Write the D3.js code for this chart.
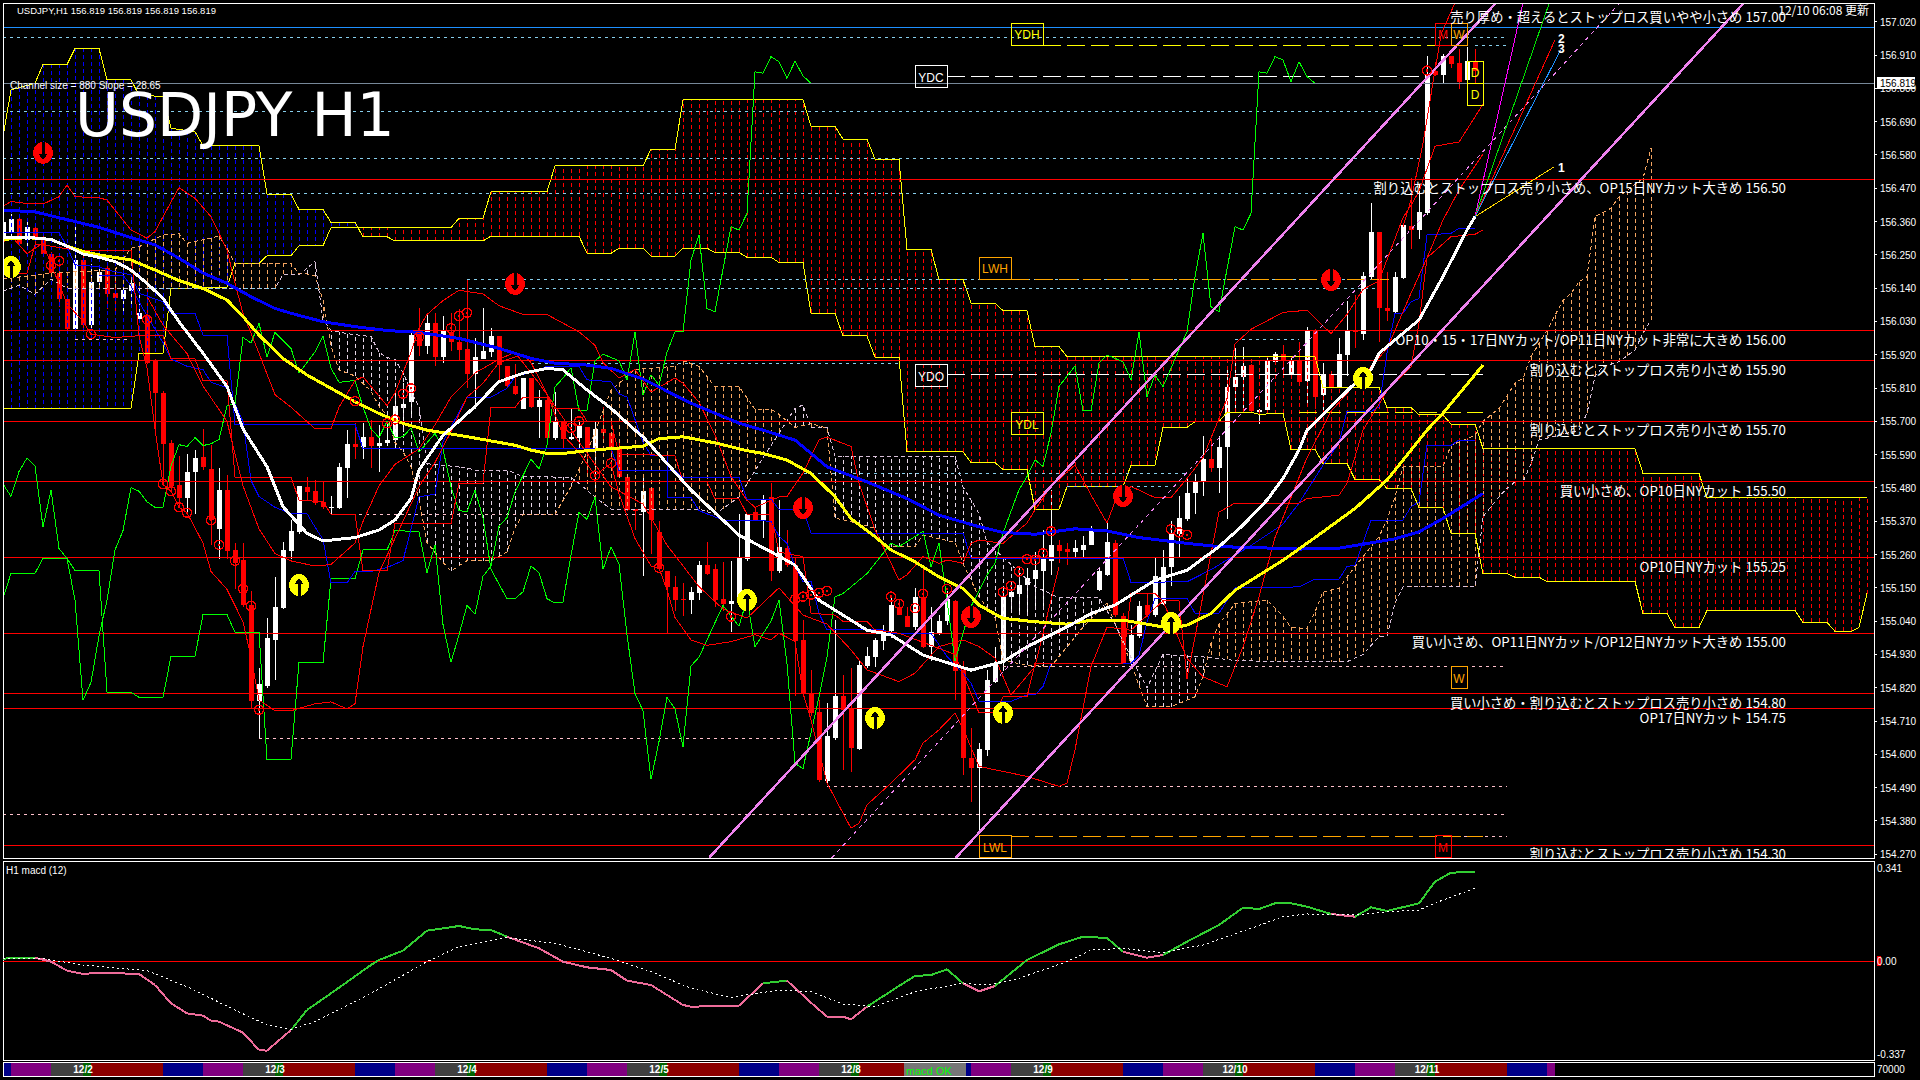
<!DOCTYPE html>
<html>
<head>
<meta charset="utf-8">
<style>
html, body { margin: 0; padding: 0; background: #000; }
svg { display: block; }
text { font-family: "Liberation Sans", sans-serif; fill: #fff; }
.jp { font-family: "Noto Sans CJK JP", sans-serif; }
</style>
<script src="https://cdn.jsdelivr.net/npm/d3@7"></script>
</head>
<body>
<svg id="chart" width="1920" height="1080"></svg>
<script>
// Candles, one value per hourly bar
const opens = [156.301,156.325,156.370,156.299,156.339,156.299,156.252,156.189,156.103,156.006,156.233,156.018,156.160,156.207,156.124,156.103,156.130,156.039,156.047,155.900,155.794,155.629,155.489,155.446,155.532,155.581,155.544,155.345,155.473,155.275,155.241,155.092,154.775,154.826,154.977,155.082,155.272,155.334,155.482,155.469,155.434,155.414,155.414,155.546,155.625,155.614,155.647,155.619,155.629,155.638,155.744,155.763,155.991,155.949,156.025,155.911,155.996,155.962,155.939,155.856,155.905,155.930,155.982,155.882,155.817,155.740,155.843,155.746,155.771,155.644,155.700,155.641,155.644,155.680,155.609,155.674,155.661,155.609,155.516,155.409,155.402,155.480,155.334,155.205,155.154,155.113,155.109,155.134,155.225,155.211,155.112,155.097,155.103,155.245,155.399,155.374,155.449,155.206,155.281,155.226,154.978,154.802,154.741,154.513,154.653,154.793,154.752,154.618,154.893,154.923,154.973,155.006,155.088,155.057,155.022,155.121,154.956,155.000,155.039,155.107,154.879,154.587,154.554,154.615,154.840,154.907,155.121,155.130,155.160,155.180,155.204,155.240,155.290,155.278,155.267,155.275,155.292,155.143,155.193,155.297,155.057,154.907,154.991,155.094,155.061,155.097,155.219,155.327,155.379,155.462,155.500,155.576,155.546,155.615,155.814,155.847,155.886,155.732,155.736,155.897,155.921,155.856,155.900,155.833,156.000,155.786,155.856,155.814,155.918,156.000,155.990,156.178,156.324,156.074,156.060,156.175,156.345,156.331,156.387,156.859,156.845,156.908,156.884,156.829,156.890];
const highs = [156.431,156.384,156.378,156.360,156.348,156.313,156.260,156.236,156.112,156.372,156.254,156.219,156.207,156.224,156.195,156.165,156.177,156.136,156.165,155.906,155.800,155.640,155.587,155.591,155.605,155.676,155.623,155.546,155.522,155.298,155.298,155.139,154.885,155.050,155.186,155.301,155.375,155.487,155.516,155.505,155.499,155.452,155.564,155.670,155.693,155.693,155.705,155.688,155.693,155.803,155.826,155.991,156.076,156.053,156.059,156.047,156.059,156.070,156.167,155.974,156.076,156.008,155.982,155.882,155.888,155.843,155.843,155.805,155.786,155.797,155.700,155.740,155.706,155.680,155.700,155.746,155.661,155.632,155.518,155.410,155.513,155.480,155.370,155.205,155.188,155.166,155.154,155.240,155.302,155.228,155.234,155.240,155.393,155.393,155.416,155.456,155.496,155.441,155.342,155.253,155.044,154.879,154.780,154.769,155.044,154.863,154.885,154.907,154.956,154.984,155.028,155.116,155.110,155.088,155.149,155.220,155.088,155.061,155.138,155.110,154.907,154.686,154.637,154.879,154.956,155.143,155.168,155.215,155.215,155.270,155.342,155.474,155.308,155.297,155.308,155.320,155.355,155.215,155.369,155.308,155.066,155.028,155.105,155.132,155.253,155.275,155.372,155.455,155.511,155.525,155.650,155.643,155.650,155.872,155.942,155.945,155.889,155.740,155.914,155.928,155.952,155.914,155.963,156.011,156.004,155.893,155.865,155.977,156.097,156.116,156.192,156.421,156.324,156.192,156.192,156.348,156.505,156.484,156.908,156.887,156.915,156.908,156.929,156.936,156.929];
const lows = [156.278,156.313,156.283,156.280,156.278,156.242,156.183,156.077,155.988,155.994,156.006,155.994,156.136,156.071,156.065,156.053,156.077,156.030,155.888,155.658,155.487,155.469,155.416,155.398,155.393,155.540,155.292,155.245,155.245,155.145,155.086,154.750,154.655,154.820,154.844,155.080,155.245,155.328,155.440,155.422,155.410,155.393,155.410,155.446,155.575,155.575,155.546,155.534,155.617,155.609,155.666,155.712,155.917,155.922,155.882,155.894,155.934,155.900,155.809,155.740,155.905,155.911,155.837,155.814,155.786,155.740,155.744,155.644,155.638,155.638,155.609,155.638,155.609,155.530,155.473,155.632,155.575,155.513,155.405,155.342,155.188,155.262,155.211,155.001,155.075,155.057,155.063,155.111,155.194,155.086,155.075,155.004,155.103,155.240,155.374,155.314,155.171,155.198,155.220,154.791,154.796,154.725,154.510,154.505,154.648,154.549,154.543,154.615,154.885,154.890,154.945,154.984,155.061,155.022,155.011,154.951,154.907,154.995,155.028,154.780,154.532,154.444,154.339,154.593,154.835,154.874,155.066,155.066,155.066,155.083,155.083,155.193,155.231,155.226,155.253,155.253,155.290,155.138,155.190,155.055,154.901,154.896,154.984,155.055,155.055,155.094,155.156,155.247,155.372,155.393,155.455,155.532,155.462,155.379,155.740,155.733,155.726,155.692,155.733,155.893,155.851,155.844,155.817,155.747,155.740,155.726,155.810,155.810,155.851,155.942,155.970,156.171,155.963,156.032,156.053,156.171,156.268,156.303,156.382,156.842,156.817,156.866,156.797,156.829,156.817];
const closes = [156.360,156.370,156.287,156.341,156.301,156.252,156.189,156.103,156.006,156.233,156.018,156.162,156.195,156.122,156.107,156.134,156.157,156.059,155.894,155.794,155.626,155.487,155.446,155.534,155.579,155.548,155.375,155.473,155.272,155.233,155.092,154.775,154.832,154.985,155.086,155.275,155.339,155.485,155.466,155.430,155.416,155.417,155.548,155.625,155.614,155.647,155.619,155.629,155.640,155.752,155.757,155.985,155.949,156.025,155.911,155.999,155.962,155.936,155.856,155.911,155.934,155.982,155.885,155.817,155.789,155.843,155.748,155.769,155.644,155.700,155.641,155.649,155.683,155.609,155.674,155.661,155.612,155.515,155.407,155.405,155.471,155.373,155.211,155.154,155.109,155.109,155.137,155.225,155.196,155.111,155.097,155.106,155.247,155.393,155.374,155.439,155.206,155.286,155.226,154.973,154.802,154.736,154.516,154.659,154.791,154.747,154.622,154.896,154.925,154.976,155.006,155.094,155.061,155.022,155.121,154.956,155.003,155.042,155.112,154.874,154.587,154.554,154.617,154.846,154.901,155.121,155.135,155.160,155.184,155.209,155.245,155.290,155.273,155.270,155.283,155.290,155.342,155.204,155.300,155.061,154.903,154.995,155.090,155.061,155.190,155.219,155.327,155.382,155.462,155.500,155.576,155.546,155.615,155.814,155.847,155.883,155.733,155.736,155.900,155.921,155.903,155.900,155.831,156.000,155.782,155.856,155.814,155.921,156.000,155.995,156.181,156.324,156.074,156.063,156.178,156.348,156.331,156.393,156.845,156.845,156.908,156.880,156.820,156.890,156.859];

// Main cloud: [bar, price] corners of its two edges
const cloudA = [[0,156.640],[1,156.795],[4,156.817],[5,156.879],[8,156.879],[9,156.932],[12,156.932],[13,156.828],[16,156.828],[17,156.778],[20,156.773],[21,156.668],[24,156.657],[25,156.610],[32,156.610],[33,156.451],[36,156.451],[37,156.400],[40,156.400],[41,156.357],[44,156.357],[45,156.310],[48,156.310],[49,156.296],[60,156.296],[61,156.312],[72,156.312],[73,156.255],[76,156.255],[77,156.272],[80,156.272],[81,156.246],[84,156.246],[85,156.272],[88,156.272],[89,156.258],[92,156.258],[93,156.242],[96,156.242],[97,156.225],[100,156.225],[101,156.057],[104,156.057],[105,155.982],[108,155.982],[109,155.912],[112,155.912],[113,155.599],[120,155.599],[121,155.564],[124,155.564],[125,155.541],[128,155.541],[129,155.409],[132,155.409],[133,155.484],[140,155.484],[141,155.555],[144,155.555],[145,155.680],[148,155.680],[149,155.699],[152,155.699],[153,155.730],[156,155.730],[157,155.723],[160,155.727],[161,155.607],[164,155.607],[165,155.561],[168,155.561],[169,155.508],[172,155.508],[173,155.478],[176,155.478],[177,155.415],[180,155.415],[181,155.330],[184,155.330],[185,155.197],[188,155.197],[189,155.185],[192,155.185],[193,155.171],[204,155.171],[205,155.065],[208,155.065],[209,155.019],[212,155.019],[213,155.075],[224,155.075],[225,155.036],[228,155.036],[229,155.006],[231,155.006],[232,155.019],[233,155.131]];
const cloudB = [[0,155.743],[16,155.743],[17,155.925],[20,155.925],[21,156.139],[28,156.143],[29,156.222],[32,156.222],[33,156.247],[36,156.247],[37,156.280],[40,156.280],[41,156.340],[56,156.340],[57,156.371],[60,156.371],[61,156.459],[68,156.459],[69,156.544],[80,156.544],[81,156.599],[84,156.599],[85,156.762],[100,156.762],[101,156.675],[104,156.675],[105,156.632],[108,156.632],[109,156.566],[112,156.566],[113,156.268],[116,156.268],[117,156.169],[120,156.169],[121,156.090],[124,156.090],[125,156.066],[128,156.066],[129,155.947],[132,155.947],[133,155.914],[164,155.914],[165,155.812],[172,155.812],[173,155.746],[176,155.746],[177,155.721],[180,155.721],[181,155.691],[184,155.691],[185,155.610],[204,155.610],[205,155.528],[212,155.528],[213,155.447],[233,155.447]];

// Second, dashed cloud
const spanPeach = [[0,156.17],[3,156.18],[6,156.19],[14,156.20],[16,156.272],[17,156.277],[20,156.316],[22,156.32],[23,156.288],[27,156.312],[28,156.272],[29,156.222],[36,156.222],[37,156.187],[38,156.187],[39,156.18],[40,156.10],[41,155.95],[42,155.87],[44,155.85],[46,155.80],[47,155.75],[48,155.72],[49,155.63],[50,155.60],[51,155.55],[52,155.44],[53,155.30],[55,155.234],[56,155.205],[58,155.24],[61,155.24],[63,155.268],[64,155.348],[65,155.393],[69,155.393],[71,155.484],[73,155.598],[74,155.666],[76,155.803],[79,155.871],[84,155.882],[85,155.90],[87,155.882],[89,155.814],[92,155.814],[94,155.74],[96,155.74],[97,155.723],[99,155.68],[101,155.693],[103,155.677],[104,155.38],[105,155.375],[109,155.347],[110,155.286],[114,155.286],[115,155.325],[119,155.30],[120,155.23],[122,155.12],[124,155.05],[125,154.91],[128,154.895],[131,154.89],[133,154.955],[135,155.02],[138,155.10],[141,154.90],[143,154.757],[146,154.757],[149,154.79],[150,154.856],[151,154.966],[152,155.03],[154,155.098],[158,155.11],[160,155.056],[161,155.019],[163,155.016],[164,155.07],[165,155.137],[167,155.148],[168,155.186],[169,155.22],[172,155.319],[173,155.374],[174,155.451],[175,155.55],[180,155.55],[181,155.621],[184,155.654],[185,155.70],[187,155.743],[189,155.826],[190,155.842],[191,155.914],[193,156.0],[195,156.1],[196,156.123],[197,156.161],[198,156.178],[199,156.376],[201,156.404],[202,156.442],[205,156.503],[206,156.602]];
const spanLilac = [[0,156.13],[2,156.15],[4,156.12],[6,156.17],[8,156.14],[16,156.14],[28,156.140],[34,156.139],[35,156.184],[37,156.184],[39,156.228],[40,156.035],[41,156.0],[43,155.99],[46,155.98],[47,155.928],[48,155.911],[49,155.905],[50,155.86],[52,155.746],[53,155.56],[58,155.547],[59,155.539],[63,155.539],[65,155.518],[71,155.515],[72,155.495],[74,155.45],[76,155.41],[87,155.41],[89,155.393],[92,155.45],[95,155.58],[97,155.66],[99,155.743],[100,155.754],[101,155.68],[103,155.68],[104,155.585],[119,155.585],[120,155.484],[122,155.396],[123,155.30],[129,155.154],[131,155.13],[132,155.117],[137,155.117],[139,155.03],[141,154.92],[143,154.82],[145,154.93],[151,154.92],[154,154.91],[160,154.906],[168,154.906],[170,154.93],[172,154.988],[173,154.99],[174,155.1],[175,155.153],[184,155.153],[185,155.385],[186,155.418],[187,155.451],[188,155.478],[189,155.5],[190,155.5],[191,155.561],[192,155.638],[197,155.67],[198,155.727],[199,155.848],[200,155.881],[202,155.897],[204,155.936],[205,155.991],[206,156.035]];

// Moving averages
const maBlue = [[0,156.398],[4,156.392],[9,156.36],[12,156.341],[16,156.307],[19,156.283],[22,156.239],[25,156.19],[28,156.156],[31,156.112],[34,156.073],[36,156.057],[40,156.029],[44,156.013],[48,156.0],[52,155.994],[57,155.974],[62,155.941],[66,155.908],[69,155.892],[73,155.886],[76,155.875],[80,155.84],[86,155.76],[92,155.694],[95,155.671],[99,155.638],[103,155.55],[108,155.5],[113,155.445],[117,155.39],[122,155.352],[125,155.333],[129,155.327],[132,155.338],[134,155.345],[138,155.338],[142,155.316],[148,155.297],[152,155.286],[155,155.284],[160,155.28],[162,155.278],[167,155.281],[170,155.294],[174,155.312],[177,155.335],[180,155.379],[185,155.462]];
const maYellow = [[0,156.301],[3,156.307],[6,156.301],[8,156.279],[10,156.261],[12,156.25],[16,156.233],[19,156.2],[22,156.165],[25,156.139],[28,156.101],[30,156.046],[32,155.985],[35,155.908],[38,155.853],[41,155.809],[44,155.765],[47,155.726],[50,155.693],[53,155.671],[57,155.654],[60,155.64],[64,155.621],[66,155.605],[68,155.594],[70,155.594],[73,155.603],[76,155.61],[80,155.618],[82,155.643],[85,155.649],[89,155.629],[93,155.603],[95,155.594],[98,155.572],[101,155.528],[104,155.451],[106,155.379],[109,155.319],[111,155.275],[114,155.236],[117,155.186],[120,155.148],[122,155.093],[125,155.049],[129,155.038],[133,155.03],[136,155.043],[140,155.043],[143,155.03],[146,155.016],[148,155.027],[151,155.065],[154,155.142],[158,155.208],[160,155.241],[164,155.316],[169,155.412],[173,155.506],[178,155.671],[180,155.727],[185,155.886]];
const maWhite = [[0,156.308],[3,156.308],[6,156.301],[8,156.279],[10,156.253],[12,156.242],[14,156.228],[16,156.2],[18,156.156],[20,156.106],[22,156.029],[25,155.925],[28,155.815],[30,155.675],[33,155.55],[35,155.418],[38,155.33],[40,155.305],[44,155.316],[47,155.341],[49,155.374],[51,155.445],[52,155.539],[54,155.616],[55,155.654],[56,155.677],[59,155.749],[62,155.831],[65,155.859],[68,155.875],[70,155.87],[73,155.804],[76,155.743],[79,155.671],[80,155.649],[83,155.561],[86,155.473],[92,155.324],[96,155.269],[99,155.225],[102,155.109],[105,155.06],[108,155.01],[111,154.994],[115,154.928],[118,154.903],[121,154.878],[125,154.906],[128,154.955],[133,155.021],[136,155.065],[139,155.093],[144,155.175],[148,155.208],[152,155.286],[155,155.357],[158,155.44],[160,155.511],[162,155.605],[163,155.671],[169,155.826],[171,155.87],[172,155.925],[177,156.035],[180,156.178],[183,156.332],[184,156.376]];

// Thin green lines
const greenLong = [[0,155.493],[1,155.452],[2,155.534],[3,155.579],[4,155.552],[5,155.351],[6,155.473],[7,155.28],[8,155.247],[9,155.109],[10,154.779],[11,154.838],[12,154.991],[13,155.109],[14,155.275],[15,155.339],[16,155.481],[17,155.469],[18,155.434],[19,155.416],[20,155.416],[21,155.552],[22,155.623],[23,155.617],[24,155.646],[25,155.62],[26,155.626],[27,155.64],[28,155.752],[29,155.758],[30,155.977],[31,155.959],[32,156.024],[33,155.912],[34,155.994],[36,155.941],[37,155.859],[39,155.93],[40,155.983],[41,155.876],[42,155.829],[44,155.835],[45,155.747],[46,155.676],[47,155.646],[48,155.7],[49,155.646],[50,155.649],[51,155.678],[52,155.598],[54,155.66],[55,155.609],[56,155.484],[57,155.405],[58,155.402],[59,155.473],[60,155.382],[61,155.211],[63,155.114],[64,155.114],[65,155.137],[66,155.222],[67,155.2],[68,155.114],[69,155.1],[70,155.103],[71,155.257],[72,155.399],[73,155.376],[74,155.45],[75,155.211],[76,155.285],[77,155.228],[78,154.995],[79,154.801],[80,154.744],[81,154.517],[82,154.642],[83,154.788],[84,154.75],[85,154.625],[86,154.892],[87,154.921],[90,155.092],[91,155.057],[92,155.023],[93,155.114],[94,154.955],[96,155.04],[97,155.109],[98,154.9],[99,154.57],[100,154.553],[102,154.79],[103,154.922],[104,155.12],[105,155.131],[108,155.197],[111,155.297],[112,155.286],[115,155.336],[116,155.22],[117,155.297],[118,155.11],[119,154.907],[120,155.0],[121,155.088],[123,155.193],[124,155.231],[125,155.331],[127,155.474],[128,155.518],[129,155.573],[130,155.551],[131,155.661],[132,155.815],[134,155.883],[135,155.735],[136,155.735],[137,155.892],[138,155.919],[140,155.897],[141,155.837],[142,155.996],[143,155.782],[144,155.853],[145,155.815],[148,155.996],[149,156.178],[150,156.321],[151,156.079],[152,156.062],[154,156.343],[155,156.332],[156,156.387],[157,156.855],[158,156.85],[159,156.905],[160,156.894],[161,156.822],[162,156.888],[163,156.839],[164,156.817]];
const greenShort = [[0,155.115],[1,155.198],[4,155.198],[5,155.247],[8,155.247],[9,155.207],[12,155.207],[13,154.805],[16,154.805],[17,154.788],[20,154.788],[21,154.924],[24,154.924],[25,155.062],[28,155.062],[29,155.003],[32,155.003],[33,154.584],[36,154.584],[37,154.903],[40,154.903],[41,155.18],[44,155.18],[45,155.275],[48,155.275],[49,155.339],[52,155.336],[53,155.2],[54,155.291],[55,155.029],[56,154.904],[57,154.995],[58,155.092],[59,155.063],[60,155.188],[61,155.222],[62,155.353],[63,155.382],[64,155.467],[66,155.575],[67,155.543],[68,155.621],[69,155.814],[70,155.843],[71,155.877],[72,155.735],[73,155.737],[74,155.9],[75,155.922],[77,155.9],[78,155.837],[79,155.996],[80,155.786],[81,155.854],[82,155.82],[83,155.928],[84,155.996],[85,155.996],[86,156.233],[87,156.316],[88,156.073],[89,156.062],[91,156.343],[92,156.332],[93,156.387],[94,156.855],[95,156.85],[96,156.905],[97,156.888],[98,156.833],[99,156.89],[100,156.841],[101,156.817]];

// Thin blue step lines
const blueUpper = [[0,156.325],[7,156.324],[8,156.277],[9,156.217],[12,156.211],[13,156.2],[16,156.184],[17,156.123],[20,156.095],[21,156.057],[24,156.057],[25,155.985],[28,155.985],[29,155.69],[44,155.69],[45,155.61],[75,155.61],[76,155.61],[77,155.538],[84,155.538],[85,155.515],[92,155.515],[93,155.442],[96,155.442],[97,155.41],[100,155.41],[101,155.331],[120,155.331],[121,155.248],[140,155.248],[141,155.168],[148,155.17],[151,155.21],[156,155.29],[160,155.36],[162,155.43],[165,155.555],[167,155.627],[168,155.733],[171,155.733],[172,155.747],[173,155.925],[174,156.057],[175,156.057],[176,156.095],[177,156.106],[178,156.316],[181,156.321],[182,156.338],[184,156.338]];
const blueLower = [[12,156.183],[15,156.183],[16,156.148],[17,156.095],[20,155.959],[21,155.906],[23,155.882],[25,155.871],[26,155.829],[28,155.811],[29,155.758],[30,155.699],[31,155.505],[32,155.452],[34,155.416],[36,155.395],[38,155.395],[39,155.351],[40,155.31],[41,155.166],[43,155.166],[44,155.204],[46,155.204],[48,155.217],[50,155.24],[52,155.45],[54,155.46],[55,155.632],[58,155.78],[61,155.78],[63,155.809],[64,155.848],[67,155.869],[68,155.882],[72,155.882],[73,155.837],[76,155.831],[77,155.791],[78,155.78],[80,155.632],[81,155.587],[83,155.587],[83.1,155.45],[86,155.448],[87,155.405],[90,155.374],[93,155.374],[96,155.37],[97,155.32],[98,155.297],[99,155.22],[100,155.171],[101,155.171],[102,155.066],[103,155.011],[110,155.011],[111,155.0],[116,155.0],[117,154.962],[118,154.923],[120,154.868],[121,154.835],[122,154.775],[126,154.775],[128,154.796],[129,154.796],[130,154.824],[131,154.9],[141,154.9],[142,154.927],[143,155.038],[144,155.115],[148,155.115],[149,155.066],[152,155.066],[154,155.15],[162,155.153],[164,155.179],[167,155.179],[168,155.22],[169,155.225],[171,155.374],[175,155.374],[176,155.418],[177,155.434],[178,155.621],[181,155.621],[182,155.638],[184,155.638]];

// Thin red lines
const redStep = [[0,156.189],[3,156.189],[4,156.283],[5,156.283],[9,156.266],[16,156.266],[17,155.983],[20,155.983],[21,155.906],[24,155.906],[25,155.835],[28,155.835],[29,155.516],[36,155.516],[37,155.44],[40,155.434],[41,155.393],[44,155.393],[45,155.207],[48,155.207],[49,155.363],[56,155.361],[57,155.496],[60,155.496],[61,155.746],[64,155.746],[65,155.78],[68,155.78],[69,155.742],[72,155.742],[73,155.70],[76,155.70],[77,155.592],[84,155.587],[85,155.50],[88,155.50],[89,155.444],[92,155.444],[93,155.393],[96,155.393],[97,155.268],[100,155.253],[101,155.066],[104,155.06],[105,155.039],[108,155.039],[109,155.011],[112,155.0],[116,154.96],[119,154.93],[122,154.737],[124,154.737],[125,154.79],[128,154.79],[129,154.9],[140,154.9],[141,155.131],[144,155.131],[145,155.107],[147,155.107],[148,154.85],[152,155.40],[154,155.43],[162,155.43],[163,155.445],[167,155.456],[168,155.495],[170,155.671],[173,155.80],[176,155.88],[177,156.024],[178,156.24],[181,156.31],[184,156.318],[185,156.332]];
const redUpper = [[0,156.41],[1,156.426],[3,156.42],[5,156.418],[7,156.442],[8,156.481],[9,156.442],[12,156.439],[13,156.431],[16,156.332],[18,156.305],[19,156.327],[20,156.376],[22,156.472],[24,156.437],[26,156.376],[28,156.266],[29,156.156],[30,156.057],[32,155.925],[34,155.788],[36,155.747],[37,155.723],[39,155.676],[41,155.676],[42,155.747],[44,155.835],[45,155.847],[48,155.752],[49,155.794],[51,155.928],[52,156.008],[53,156.053],[55,156.099],[57,156.133],[60,156.121],[62,156.082],[65,156.053],[68,156.053],[72,155.996],[74,155.951],[75,155.894],[77,155.843],[79,155.871],[81,155.797],[84,155.843],[85,155.826],[87,155.763],[89,155.655],[91,155.518],[93,155.439],[94,155.416],[97,155.45],[98,155.452],[100,155.529],[102,155.639],[103,155.648],[106,155.617],[107,155.496],[109,155.342],[112,155.176],[113,155.193],[115,155.253],[117,155.231],[118,155.242],[120,155.231],[121,155.297],[122,155.308],[125,155.297],[128,155.364],[129,155.408],[131,155.485],[134,155.556],[136,155.457],[138,155.364],[139,155.435],[141,155.485],[144,155.448],[146,155.448],[148,155.511],[150,155.58],[153,155.775],[154,155.956],[156,156.004],[158,156.032],[160,156.06],[163,156.067],[166,155.99],[168,156.053],[170,156.136],[172,156.164],[175,156.373],[176,156.414],[177,156.46],[179,156.609],[182,156.623],[184,156.706],[185,156.748]];
const redLower = [[0,156.289],[1,156.313],[3,156.254],[5,156.289],[6,156.219],[8,156.089],[10,156.03],[11,155.988],[14,155.977],[17,155.983],[18,155.876],[19,155.675],[20,155.493],[21,155.469],[22,155.416],[23,155.398],[25,155.298],[26,155.204],[28,155.145],[30,155.038],[31,154.921],[32,154.779],[34,154.744],[36,154.744],[39,154.767],[41,154.773],[43,154.75],[44,154.767],[45,154.956],[47,155.2],[50,155.37],[52,155.484],[54,155.564],[56,155.666],[58,155.78],[60,155.826],[62,155.894],[65,155.922],[66,155.894],[68,155.791],[70,155.655],[72,155.598],[74,155.521],[76,155.561],[77,155.461],[79,155.313],[81,155.222],[82,155.216],[83,155.143],[84,155.052],[86,154.978],[88,154.96],[91,154.972],[94,154.995],[96,154.978],[97,155.0],[99,154.973],[100,154.802],[101,154.714],[103,154.505],[106,154.356],[107,154.372],[108,154.433],[111,154.505],[114,154.582],[115,154.637],[117,154.681],[119,154.736],[120,154.686],[122,154.56],[124,154.549],[128,154.527],[132,154.494],[133,154.505],[134,154.615],[136,154.89],[138,155.02],[141,155.01],[145,155.107],[148,154.917],[150,154.856],[153,154.823],[155,154.955],[157,155.12],[159,155.316],[163,155.58],[166,155.733],[173,155.94],[176,156.123],[178,156.24],[180,156.365],[182,156.464],[185,156.583]];
const redMiddle = [[18,156.112],[20,156.018],[23,155.924],[25,155.817],[28,155.70],[30,155.487],[32,155.345],[34,155.263],[36,155.239],[39,155.222],[41,155.227],[44,155.298],[45,155.369],[47,155.487],[49,155.558],[52,155.609],[54,155.689],[56,155.78],[59,155.86],[62,155.905],[64,155.928],[67,155.826],[70,155.712],[72,155.632],[76,155.484],[80,155.427],[83,155.291],[87,155.154],[90,155.08],[93,155.05],[97,155.15],[100,155.06],[103,155.03],[106,154.945],[108,154.879],[112,154.84],[114,154.868],[117,154.956],[120,154.978],[122,154.956],[124,154.918],[126,154.796],[129,154.89],[131,155.11],[132,155.22]];
const redTop = [[175,156.343],[176,156.431],[177.5,156.618],[178.8,156.828],[179.8,156.982],[181.5,157.083]];

// Trend lines, as [startBar, startPrice, endBar, endPrice]
const channelLines = [[88.25,154.258,186.6,157.082],[119.1,154.258,217.6,157.082]];
const channelMiddle = [103.6,154.258,202.1,157.082];
const fanStart = [184,156.376];
const fanEnds = [[193.9,156.541,'#ffd700'],[190,157.083,'#ff00ff'],[193.3,157.083,'#00e000'],[194,156.96,'#ff0000'],[194.7,156.927,'#1e90ff']];
const fanLabels = [[194.8,156.541,'1'],[194.8,156.967,'2'],[194.8,156.932,'3']];

// Horizontal levels with their notes
const levelPrices = [157.00,156.50,156.00,155.90,155.70,155.50,155.25,155.00,154.80,154.75,154.30];
const levelNotes = ['売り厚め・超えるとストップロス買いやや小さめ 157.00','割り込むとストップロス売り小さめ、OP15日NYカット大きめ 156.50','OP10・15・17日NYカット/OP11日NYカット非常に大きめ 156.00','割り込むとストップロス売り小さめ 155.90','割り込むとストップロス売り小さめ 155.70','買い小さめ、OP10日NYカット 155.50','OP10日NYカット 155.25','買い小さめ、OP11日NYカット/OP12日NYカット大きめ 155.00','買い小さめ・割り込むとストップロス売り小さめ 154.80','OP17日NYカット 154.75','割り込むとストップロス売り小さめ 154.30'];
const lastPrice = 156.817;
const skyLevels = [[156.967,0,188],[156.943,184,188],[156.724,0,177],[156.568,0,177],[156.453,0,177],[156.169,58,172],[156.139,18,172],[155.971,154,162],[155.892,66,112],[155.528,94,148],[155.484,133,146]];
const pinkLevels = [[155.971,9,16],[155.393,41,80],[155.0,83,97],[154.889,125,188],[154.652,32,101],[154.495,103,188],[154.402,0,188],[154.327,180,188]];
const namedLevels = [[156.943,130,180,'#ffff00'],[156.84,118,177,'#ffffff'],[156.169,126,174,'#ffa500'],[155.854,118,185,'#ffffff'],[155.73,162,185,'#ffff00'],[154.327,126,185,'#ffa500']];
const levelBoxes = [['YDH',126,156.943,32,'#ffff00'],['YDC',114,156.802,32,'#ffffff'],['YDO',114,155.815,32,'#ffffff'],['LWH',122,156.170,32,'#ffa500'],['YDL',126,155.656,32,'#ffff00'],['LWL',122,154.258,32,'#ffa500'],['M',179,156.943,16,'#ff0000'],['W',181,156.943,16,'#ffa500'],['D',183,156.817,16,'#ffff00'],['D',183,156.744,16,'#ffff00'],['W',181,154.816,16,'#ffa500'],['M',179,154.258,16,'#ff0000']];

// Signal marks
const upMarks = [[1,156.21],[37,155.159],[93,155.11],[109,154.72],[125,154.737],[146,155.034],[170,155.843]];
const downMarks = [[5,156.587],[64,156.154],[100,155.414],[121,155.054],[140,155.453],[166,156.167]];
const ringMarks = [[6,156.215],[7,156.23],[11,155.988],[18,156.036],[20,155.493],[21,155.469],[22,155.416],[23,155.398],[26,155.373],[27,155.292],[29,155.239],[30,155.147],[31,155.09],[32,154.747],[44,155.767],[48,155.694],[49,155.706],[50,155.791],[51,155.809],[52,155.979],[56,156.008],[57,156.048],[58,156.059],[71,155.678],[72,155.7],[74,155.521],[76,155.562],[82,155.216],[91,155.055],[99,155.112],[100,155.121],[101,155.127],[102,155.134],[103,155.14],[111,155.121],[112,155.097],[114,155.083],[115,155.13],[118,155.146],[125,155.136],[126,155.157],[127,155.204],[128,155.245],[129,155.242],[130,155.264],[131,155.337],[146,155.344],[147,155.333],[148,155.325],[178,156.859]];

// MACD pane
const macdLine = [[0,0.0096],[2,0.0133],[4,0.0133],[6,-0.0013],[8,-0.0342],[10,-0.0464],[12,-0.0415],[17,-0.0464],[19,-0.0866],[21,-0.1536],[23,-0.1902],[25,-0.1987],[26,-0.2170],[27,-0.2206],[30,-0.2608],[32,-0.3242],[33,-0.3266],[36,-0.2511],[38,-0.1780],[41,-0.1171],[46,-0.0134],[47,0.0048],[50,0.0389],[53,0.1120],[57,0.1290],[59,0.1168],[61,0.1144],[63,0.0900],[67,0.0474],[70,-0.0013],[73,-0.0221],[76,-0.0318],[78,-0.0708],[81,-0.0866],[85,-0.1597],[86,-0.1658],[92,-0.1622],[95,-0.0805],[98,-0.0708],[101,-0.1512],[103,-0.2024],[105,-0.2024],[106,-0.2121],[108,-0.1658],[112,-0.0903],[114,-0.0537],[116,-0.0501],[118,-0.0294],[120,-0.0805],[122,-0.1098],[124,-0.0903],[128,0.0048],[132,0.0620],[135,0.0900],[138,0.0852],[140,0.0352],[143,0.0133],[145,0.0230],[148,0.0718],[152,0.1327],[155,0.1960],[157,0.1912],[159,0.2119],[161,0.2119],[163,0.1997],[166,0.1729],[169,0.1631],[171,0.1972],[173,0.1838],[177,0.2119],[179,0.2911],[181,0.3240],[184,0.3264]];
const macdSignal = [[0,0.0096],[5,0.0096],[10,-0.0135],[18,-0.0342],[23,-0.0927],[29,-0.1780],[33,-0.2328],[36,-0.2487],[39,-0.2206],[46,-0.1171],[53,-0.0013],[57,0.0535],[63,0.0864],[69,0.0657],[76,0.0108],[81,-0.0379],[86,-0.0988],[91,-0.1317],[97,-0.1049],[101,-0.1110],[105,-0.1561],[109,-0.1658],[114,-0.1110],[120,-0.0805],[123,-0.0866],[127,-0.0622],[133,-0.0013],[136,0.0413],[140,0.0474],[145,0.0316],[150,0.0596],[156,0.1205],[160,0.1631],[163,0.1729],[169,0.1692],[173,0.1814],[177,0.1875],[180,0.2240],[184,0.2667]];
const macdTicks = [0.341,0,-0.337];
const macdTickLabels = ['0.341','0.00','-0.337'];

// Price axis and date strip
const priceTicks = [157.02,156.91,156.80,156.69,156.58,156.47,156.36,156.25,156.14,156.03,155.92,155.81,155.70,155.59,155.48,155.37,155.26,155.15,155.04,154.93,154.82,154.71,154.60,154.49,154.38,154.27];
const dayBars = [10,34,58,82,106,130,154,178];
const dayLabels = ['12/2','12/3','12/4','12/5','12/8','12/9','12/10','12/11'];
const sessionColors = ['#404040','#8b0000','#000088','#800080'];
const sessionLengths = [5,9,5,5];

const svg = d3.select('#chart').attr('shape-rendering', 'crispEdges');
const x = d3.scaleLinear().domain([0, 1]).range([3, 11]);
const y = d3.scaleLinear().domain([157.092, 154.27]).range([0, 854.2]);
const yMacd = d3.scaleLinear().domain([0.341, -0.337]).range([868, 1053.5]);

const lineGen = d3.line().x(d => x(d[0])).y(d => y(d[1]));
const edge = pts => d3.scaleLinear().domain(pts.map(d => d[0])).range(pts.map(d => d[1]));

svg.append('defs').append('clipPath').attr('id', 'mainClip')
    .append('rect').attr('x', 3).attr('y', 3).attr('width', 1871).attr('height', 855);

const main = svg.append('g').attr('clip-path', 'url(#mainClip)');

function drawPath(pts, color, width, dash) {
    return main.append('path').datum(pts)
        .attr('d', lineGen)
        .attr('fill', 'none')
        .attr('stroke', color)
        .attr('stroke-width', width)
        .attr('stroke-dasharray', dash || null);
}

function hLine(price, from, to, color, width, dash) {
    main.append('line')
        .attr('x1', from).attr('x2', to)
        .attr('y1', y(price)).attr('y2', y(price))
        .attr('stroke', color).attr('stroke-width', width)
        .attr('stroke-dasharray', dash || null);
}

// Candles go under everything else
const candles = main.append('g');
opens.forEach((open, i) => {
    const up = closes[i] >= open;
    const color = up ? '#ffffff' : '#ff0000';
    candles.append('line')
        .attr('x1', x(i)).attr('x2', x(i))
        .attr('y1', y(highs[i])).attr('y2', y(lows[i]))
        .attr('stroke', color);
    candles.append('rect')
        .attr('x', x(i) - 2.5).attr('width', 5)
        .attr('y', y(Math.max(open, closes[i])))
        .attr('height', Math.max(1, Math.abs(y(open) - y(closes[i]))))
        .attr('fill', color);
});

// Cloud hatching
function hatch(a, b, aboveColor, belowColor, lastBar, dash) {
    const edgeA = edge(a), edgeB = edge(b);
    d3.range(0, lastBar + 1).forEach(i => {
        main.append('line')
            .attr('x1', x(i)).attr('x2', x(i))
            .attr('y1', y(edgeA(i))).attr('y2', y(edgeB(i)))
            .attr('stroke', edgeB(i) > edgeA(i) ? belowColor : aboveColor)
            .attr('stroke-dasharray', dash);
    });
}
hatch(cloudA, cloudB, '#0000ff', '#ff0000', 233, '4,3');
hatch(spanPeach, spanLilac, '#f4a460', '#e6d6e6', 206, '4,3');
drawPath(cloudA, '#ffff00', 1);
drawPath(cloudB, '#ffff00', 1);
drawPath(spanPeach, '#f4a460', 1, '4,3');
drawPath(spanLilac, '#d8bfd8', 1, '4,3');

// Horizontal levels
skyLevels.forEach(d => hLine(d[0], x(d[1]), x(d[2]), '#87ceeb', 1, '3,4'));
pinkLevels.forEach(d => hLine(d[0], x(d[1]), x(d[2]), '#ffc0cb', 1, '3,4'));
levelPrices.forEach((p, i) => hLine(p, 3, 1874, i === 0 ? '#1e90ff' : '#ff0000', 1));
hLine(lastPrice, 3, 1874, '#778899', 1);
namedLevels.forEach(d => hLine(d[0], x(d[1]), x(d[2]), d[3], 1, '18,6'));

// Thin indicator lines
drawPath(greenShort, '#00ff00', 1);
drawPath(greenLong, '#00ff00', 1);
drawPath(blueUpper, '#0000ff', 1);
drawPath(blueLower, '#0000ff', 1);
drawPath(redStep, '#ff0000', 1);
drawPath(redUpper, '#ff0000', 1);
drawPath(redLower, '#ff0000', 1);
drawPath(redMiddle, '#ff0000', 1);
drawPath(redTop, '#ff0000', 1);

// Moving averages
drawPath(maBlue, '#0000ff', 3);
drawPath(maYellow, '#ffff00', 3);
drawPath(maWhite, '#ffffff', 3);

// Trend lines
channelLines.forEach(d => drawPath([[d[0], d[1]], [d[2], d[3]]], '#ee82ee', 2.5));
drawPath([[channelMiddle[0], channelMiddle[1]], [channelMiddle[2], channelMiddle[3]]], '#ee82ee', 1, '4,4');
fanEnds.forEach(d => drawPath([fanStart, [d[0], d[1]]], d[2], 1));
fanLabels.forEach(d => {
    main.append('text').attr('x', x(d[0])).attr('y', y(d[1]) + 5).attr('text-anchor', 'middle')
        .attr('font-size', 12).attr('font-weight', 'bold').text(d[2]);
});

// Signal marks
ringMarks.forEach(d => {
    const g = main.append('g').attr('transform', `translate(${x(d[0])},${y(d[1])})`);
    g.append('circle').attr('r', 4.5).attr('fill', 'none').attr('stroke', '#ff0000').attr('stroke-width', 1.5);
    g.append('circle').attr('r', 1.3).attr('fill', '#ff0000');
});
function bigMark(d, color, up) {
    const s = up ? 1 : -1;
    const g = main.append('g').attr('transform', `translate(${x(d[0])},${y(d[1])}) scale(1,${s})`);
    g.append('ellipse').attr('rx', 10).attr('ry', 11).attr('fill', color);
    g.append('path').attr('d', 'M0,-7 L-4.5,-1 L-1.5,-1 L-1.5,11 L1.5,11 L1.5,-1 L4.5,-1 Z').attr('fill', '#000');
}
upMarks.forEach(d => bigMark(d, '#ffff00', true));
downMarks.forEach(d => bigMark(d, '#ff0000', false));

// Labelled boxes
levelBoxes.forEach(d => {
    const left = x(d[1]), bottom = y(d[2]);
    main.append('rect').attr('x', left).attr('y', bottom - 22).attr('width', d[3]).attr('height', 22)
        .attr('fill', 'none').attr('stroke', d[4]);
    main.append('text').attr('x', left + d[3] / 2).attr('y', bottom - 6)
        .attr('text-anchor', 'middle').attr('font-size', 12).style('fill', d[4]).text(d[0]);
});

// Notes on the levels
levelPrices.forEach((p, i) => {
    main.append('text').attr('class', 'jp')
        .attr('x', 1786).attr('y', y(p) + (i === 0 ? -6 : 14))
        .attr('text-anchor', 'end').attr('font-size', 13.3).text(levelNotes[i]);
});

// Chart captions
svg.append('text').attr('x', 75).attr('y', 136).attr('font-size', 60).style('font-family', '"DejaVu Sans"').text('USDJPY H1');
svg.append('text').attr('x', 17).attr('y', 14).attr('font-size', 9.5).text('USDJPY,H1  156.819 156.819 156.819 156.819');
svg.append('text').attr('x', 10).attr('y', 89).attr('font-size', 10).text('Channel size = 880 Slope = 28.65');
svg.append('text').attr('class', 'jp').attr('x', 1869).attr('y', 15).attr('text-anchor', 'end').attr('font-size', 12).text('12/10 06:08 更新');

// Pane frames
[[3, 3, 1871, 855], [3, 861, 1871, 199], [3, 1062, 1871, 14]].forEach(r => {
    svg.append('rect').attr('x', r[0]).attr('y', r[1]).attr('width', r[2]).attr('height', r[3])
        .attr('fill', 'none').attr('stroke', '#ffffff');
});

// Price axis
priceTicks.forEach(p => {
    svg.append('line').attr('x1', 1874).attr('x2', 1877).attr('y1', y(p)).attr('y2', y(p)).attr('stroke', '#fff');
    svg.append('text').attr('x', 1880).attr('y', y(p) + 4).attr('font-size', 10).text(p.toFixed(3));
});
svg.append('rect').attr('x', 1877).attr('y', y(lastPrice) - 6).attr('width', 38).attr('height', 12).attr('fill', '#fff');
svg.append('text').attr('x', 1880).attr('y', y(lastPrice) + 4).attr('font-size', 10).style('fill', '#000').text('156.819');

// MACD pane
svg.append('text').attr('x', 6).attr('y', 874).attr('font-size', 10).text('H1  macd (12)');
svg.append('line').attr('x1', 3).attr('x2', 1874).attr('y1', yMacd(0)).attr('y2', yMacd(0)).attr('stroke', '#ff0000');
const macdPath = d3.line().x(d => x(d[0])).y(d => yMacd(d[1]));
const signalAt = edge(macdSignal);
d3.pairs(macdLine).forEach(pair => {
    const mid = (pair[0][1] + pair[1][1]) / 2;
    const bar = (pair[0][0] + pair[1][0]) / 2;
    svg.append('path').attr('d', macdPath(pair)).attr('fill', 'none')
        .attr('stroke', mid >= signalAt(bar) ? '#32cd32' : '#ee6c9a').attr('stroke-width', 2);
});
svg.append('path').attr('d', macdPath(macdSignal)).attr('fill', 'none')
    .attr('stroke', '#ffffff').attr('stroke-dasharray', '2,3');
svg.append('rect').attr('x', 1877).attr('y', yMacd(0) - 5).attr('width', 4).attr('height', 10).attr('fill', '#ff0000');
macdTicks.forEach((v, i) => {
    svg.append('text').attr('x', 1877).attr('y', yMacd(v) + 4).attr('font-size', 10).text(macdTickLabels[i]);
});

// Session strip
const strip = svg.append('g');
const firstBlocks = [[-1, 1, 2], [1, 6, 3]];
firstBlocks.forEach(b => {
    strip.append('rect').attr('x', Math.max(x(b[0]), 4)).attr('y', 1063)
        .attr('width', x(b[1]) - Math.max(x(b[0]), 4)).attr('height', 13).attr('fill', sessionColors[b[2]]);
});
dayBars.forEach(d => {
    let start = d - 4;
    sessionLengths.forEach((len, k) => {
        const end = Math.min(start + len, 194);
        if (end > start) {
            strip.append('rect').attr('x', x(start)).attr('y', 1063)
                .attr('width', x(end) - x(start)).attr('height', 13).attr('fill', sessionColors[k]);
        }
        start += len;
    });
    strip.append('rect').attr('x', x(d)).attr('y', 1063).attr('width', 8).attr('height', 13).attr('fill', '#006400');
});
dayBars.forEach((d, i) => {
    strip.append('text').attr('x', x(d)).attr('y', 1073).attr('text-anchor', 'middle')
        .attr('font-size', 10).attr('font-weight', 'bold').text(dayLabels[i]);
});
strip.append('rect').attr('x', 904).attr('y', 1063).attr('width', 62).attr('height', 13).attr('fill', '#777777');
strip.append('text').attr('x', 906).attr('y', 1075).attr('font-size', 11).style('fill', '#00ff00').text('macd OK');
svg.append('text').attr('x', 1877).attr('y', 1073).attr('font-size', 10).text('70000');
</script>
</body>
</html>
